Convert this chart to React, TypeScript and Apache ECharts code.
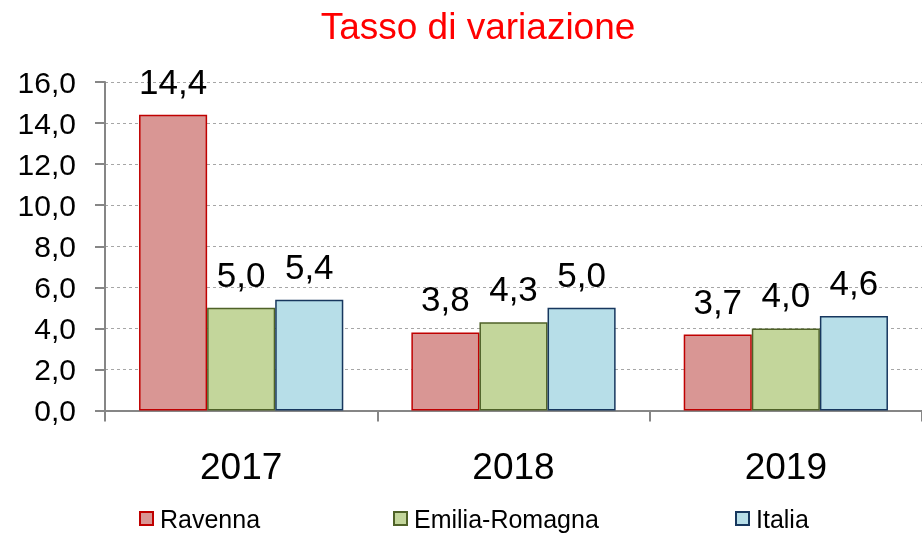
import React, { useEffect, useRef } from "react";
import * as echarts from "echarts";

const categories = ["2017", "2018", "2019"];
const ravenna = [14.4, 3.8, 3.7];
const emilia = [5.0, 4.3, 4.0];
const italia = [5.4, 5.0, 4.6];
const seriesNames = ["Ravenna", "Emilia-Romagna", "Italia"];
const titleText = "Tasso di variazione";

const FONT = "'Liberation Sans', Arial, sans-serif";
const fmt = (v: number) => v.toFixed(1).replace(".", ",");

export default function App() {
  const ref = useRef<HTMLDivElement>(null);
  useEffect(() => {
    if (!ref.current) return;
    const chart = echarts.init(ref.current, null, { renderer: "svg" });
    const styles = [
      { fill: "#D99694", border: "#C00000" },
      { fill: "#C3D69B", border: "#4F6228" },
      { fill: "#B7DEE8", border: "#17375E" },
    ];
    const datas = [ravenna, emilia, italia];
    const legendLefts = [134, 388, 730];
    chart.setOption({
      animation: false,
      title: {
        text: titleText,
        left: 473,
        textAlign: "center",
        top: 3,
        textStyle: { color: "#FF0000", fontSize: 37, fontWeight: "normal", fontFamily: FONT },
      },
      legend: seriesNames.map((n, i) => ({
        data: [n],
        left: legendLefts[i],
        top: 501,
        itemWidth: 13,
        itemHeight: 13,
        itemGap: 0,
        textStyle: { fontSize: 25, color: "#000", fontFamily: FONT, padding: [0, 0, 0, 2] },
        icon: "rect",
      })),
      grid: { left: 105, top: 82, width: 820, height: 328.5, containLabel: false },
      xAxis: {
        type: "category",
        data: categories,
        axisLine: { lineStyle: { color: "#868686", width: 2 } },
        axisTick: { show: true, length: 11, lineStyle: { color: "#868686", width: 2 } },
        axisLabel: { fontSize: 37, color: "#000", fontFamily: FONT, margin: 37 },
      },
      yAxis: {
        type: "value",
        min: 0,
        max: 16,
        interval: 2,
        axisLine: { show: true, lineStyle: { color: "#868686", width: 2 } },
        axisTick: { show: true, length: 10, lineStyle: { color: "#868686", width: 2 } },
        axisLabel: {
          fontSize: 30,
          color: "#000",
          fontFamily: FONT,
          margin: 29,
          formatter: (v: number) => fmt(v),
        },
        splitLine: { lineStyle: { color: "#A6A6A6", type: [3, 3], width: 1 } },
      },
      series: seriesNames.map((n, i) => ({
        name: n,
        type: "bar",
        data: datas[i],
        barGap: "0%",
        barCategoryGap: "25%",
        itemStyle: { color: styles[i].fill, borderColor: styles[i].border, borderWidth: 1.5 },
        label: {
          show: true,
          position: "top",
          distance: 16,
          fontSize: 35,
          color: "#000",
          fontFamily: FONT,
          formatter: (p: any) => fmt(p.value),
        },
      })),
    });
    return () => chart.dispose();
  }, []);
  return (
    <div
      ref={ref}
      style={{ position: "fixed", left: 0, top: 0, width: 922, height: 534 }}
    />
  );
}
